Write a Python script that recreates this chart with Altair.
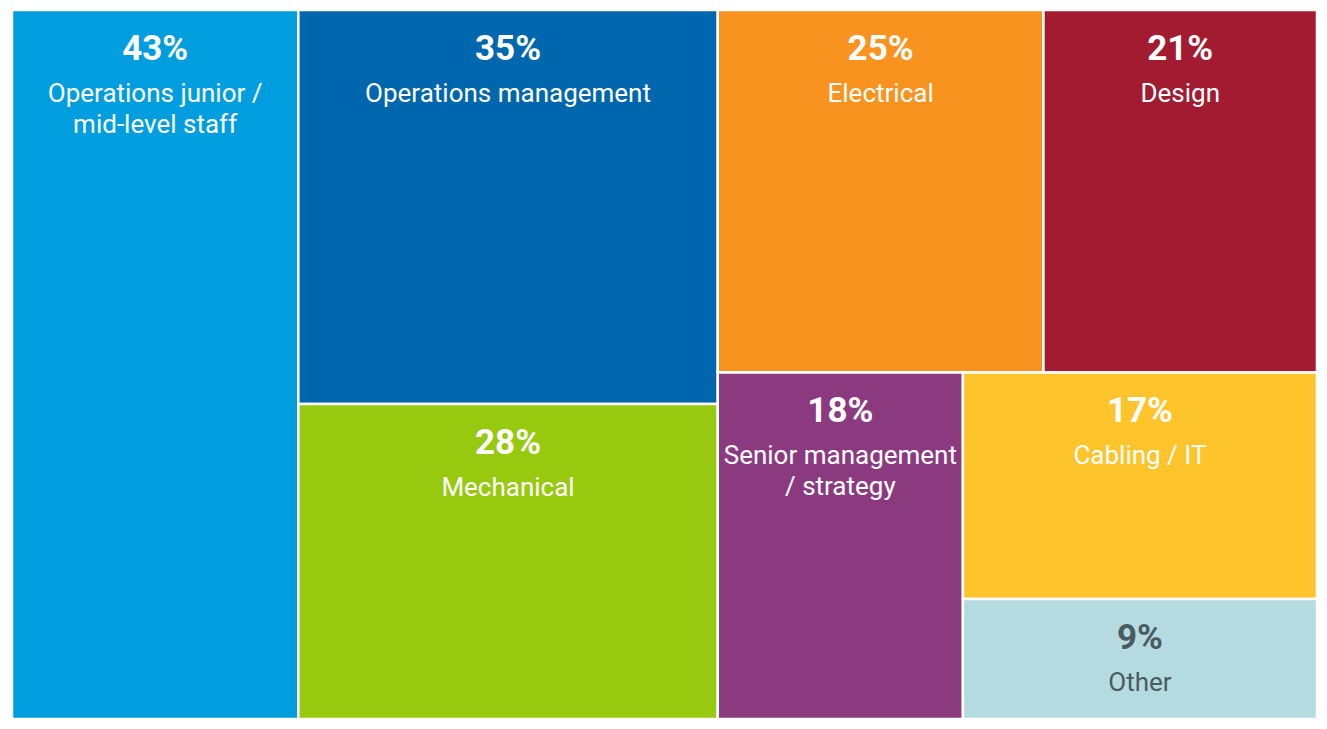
import altair as alt
import pandas as pd

# ---- data ----
categories = [
    "Operations junior /\nmid-level staff",
    "Operations management",
    "Mechanical",
    "Electrical",
    "Design",
    "Senior management\n/ strategy",
    "Cabling / IT",
    "Other",
]
values = [43, 35, 28, 25, 21, 18, 17, 9]
colors = ["#009EDF", "#0066AD", "#97C90F", "#F7931E", "#A21B30", "#8C3A80", "#FDC42C", "#B4DBE0"]
text_colors = ["#FFFFFF", "#FFFFFF", "#FFFFFF", "#FFFFFF", "#FFFFFF", "#FFFFFF", "#FFFFFF", "#4A5A60"]

# nesting of the treemap: "h" splits side by side, "v" stacks top to bottom
layout_tree = ("h", [0, ("v", [1, 2]), ("v", [("h", [3, 4]), ("h", [5, ("v", [6, 7])])])])


def total(node):
    if isinstance(node, int):
        return values[node]
    return sum(total(c) for c in node[1])


def place(node, x0, y0, x1, y1, out):
    if isinstance(node, int):
        out[node] = (x0, y0, x1, y1)
        return
    direction, children = node
    s = total(node)
    pos = x0 if direction == "h" else y0
    for c in children:
        frac = total(c) / s
        if direction == "h":
            nxt = pos + (x1 - x0) * frac
            place(c, pos, y0, nxt, y1, out)
        else:
            nxt = pos + (y1 - y0) * frac
            place(c, x0, pos, x1, nxt, out)
        pos = nxt


boxes = {}
place(layout_tree, 0.0, 0.0, 1.0, 1.0, boxes)

df = pd.DataFrame({
    "category": categories,
    "value": values,
    "pct": [f"{v}%" for v in values],
    "color": colors,
    "text_color": text_colors,
    "x0": [boxes[i][0] for i in range(len(values))],
    "y0": [boxes[i][1] for i in range(len(values))],
    "x1": [boxes[i][2] for i in range(len(values))],
    "y1": [boxes[i][3] for i in range(len(values))],
})
df["xc"] = (df["x0"] + df["x1"]) / 2

x_scale = alt.Scale(domain=[0, 1], nice=False, zero=False)
y_scale = alt.Scale(domain=[0, 1], nice=False, zero=False, reverse=True)

base = alt.Chart(df)

rects = base.mark_rect(stroke="white", strokeWidth=2.5).encode(
    x=alt.X("x0:Q", scale=x_scale, axis=None),
    x2="x1:Q",
    y=alt.Y("y0:Q", scale=y_scale, axis=None),
    y2="y1:Q",
    color=alt.Color("color:N", scale=None, legend=None),
)

pct_text = base.mark_text(
    align="center", baseline="alphabetic", dy=50,
    font="Roboto", fontSize=35, fontWeight="bold",
).encode(
    x=alt.X("xc:Q", scale=x_scale, axis=None),
    y=alt.Y("y0:Q", scale=y_scale, axis=None),
    text="pct:N",
    color=alt.Color("text_color:N", scale=None, legend=None),
)

label_text = base.mark_text(
    align="center", baseline="alphabetic", dy=92,
    font="Roboto", fontSize=26, lineBreak="\n", lineHeight=31,
).encode(
    x=alt.X("xc:Q", scale=x_scale, axis=None),
    y=alt.Y("y0:Q", scale=y_scale, axis=None),
    text="category:N",
    color=alt.Color("text_color:N", scale=None, legend=None),
)

chart = (rects + pct_text + label_text).properties(
    width=1311,
    height=713,
    autosize=alt.AutoSizeParams(type="fit", contains="padding"),
    padding={"left": 2, "top": 0, "right": 0, "bottom": 0},
).configure_view(stroke=None)

chart.save("out.html", embed_options={"renderer": "svg", "actions": False})
